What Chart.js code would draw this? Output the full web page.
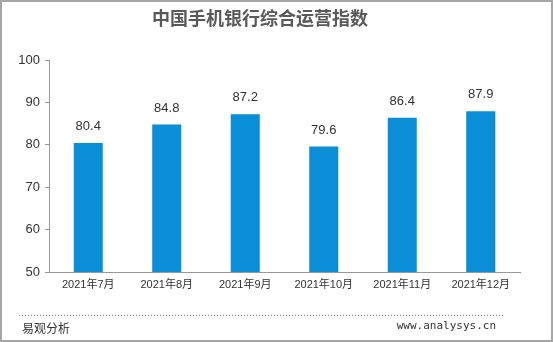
<!DOCTYPE html>
<html>
<head>
<meta charset="utf-8">
<script src="https://cdn.jsdelivr.net/npm/chart.js@4/dist/chart.umd.min.js"></script>
<style>
html,body{margin:0;padding:0;background:#fff;}
canvas{display:block;}
</style>
</head>
<body>
<canvas id="c" width="553" height="342"></canvas>
<script>
const titleText = "中国手机银行综合运营指数";
const categories = ["2021年7月","2021年8月","2021年9月","2021年10月","2021年11月","2021年12月"];
const indexValues = [80.4, 84.8, 87.2, 79.6, 86.4, 87.9];
const yTicks = [50, 60, 70, 80, 90, 100];
const sourceLeft = "易观分析";
const sourceRight = "www.analysys.cn";

const extras = {
  id: 'extras',
  afterDatasetsDraw(chart) {
    const ctx = chart.ctx;
    const meta = chart.getDatasetMeta(0);
    ctx.save();
    ctx.font = '13px "Liberation Sans", "DejaVu Sans", sans-serif';
    ctx.fillStyle = '#333';
    ctx.textAlign = 'center';
    ctx.textBaseline = 'middle';
    meta.data.forEach((bar, i) => {
      ctx.fillText(indexValues[i].toFixed(1), bar.x, bar.y - 16.5);
    });
    ctx.restore();
  },
  afterDraw(chart) {
    const ctx = chart.ctx;
    ctx.save();
    ctx.strokeStyle = '#777';
    ctx.lineWidth = 1;
    ctx.setLineDash([1, 2]);
    ctx.beginPath();
    ctx.moveTo(19, 315.5);
    ctx.lineTo(503, 315.5);
    ctx.stroke();
    ctx.setLineDash([]);
    ctx.fillStyle = '#333';
    ctx.textBaseline = 'middle';
    ctx.textAlign = 'left';
    ctx.font = '12px "Noto Sans CJK SC", sans-serif';
    ctx.fillText(sourceLeft, 22, 328);
    ctx.textAlign = 'right';
    ctx.font = '11px "DejaVu Sans Mono", "Liberation Mono", monospace';
    ctx.fillText(sourceRight, 496, 326);
    ctx.strokeStyle = '#a6a6a6';
    ctx.lineWidth = 2;
    ctx.strokeRect(1, 1, 551, 340);
    ctx.restore();
  }
};

new Chart(document.getElementById('c'), {
  type: 'bar',
  data: {
    labels: categories,
    datasets: [{
      data: indexValues,
      backgroundColor: '#0b8ed8',
      borderWidth: 0,
      barPercentage: 0.37,
      categoryPercentage: 1.0
    }]
  },
  options: {
    responsive: false,
    animation: false,
    layout: { padding: { left: 0, right: 33, top: 7, bottom: 0 } },
    plugins: {
      legend: { display: false },
      tooltip: { enabled: false },
      title: {
        display: true,
        text: titleText,
        color: '#595959',
        font: { family: '"Noto Sans CJK SC", sans-serif', size: 18, weight: 'bold' },
        padding: { top: 0, bottom: 31.4 }
      }
    },
    scales: {
      x: {
        grid: { display: false, drawTicks: false },
        border: { display: true, color: '#999', width: 1 },
        ticks: {
          color: '#333',
          padding: 6,
          maxRotation: 0,
          autoSkip: false,
          font: { family: '"Liberation Sans", "Noto Sans CJK SC", sans-serif', size: 11 }
        },
        afterFit(scale) { scale.height = 70; }
      },
      y: {
        min: 50,
        max: 100,
        afterBuildTicks(scale) { scale.ticks = yTicks.map(v => ({ value: v })); },
        grid: { display: true, drawOnChartArea: false, drawTicks: true, tickLength: 4, color: '#999' },
        border: { display: true, color: '#999', width: 1 },
        ticks: {
          color: '#333',
          padding: 5,
          font: { family: '"Liberation Sans", sans-serif', size: 13 }
        },
        afterFit(scale) { scale.width = 49; }
      }
    }
  },
  plugins: [extras]
});
</script>
</body>
</html>
